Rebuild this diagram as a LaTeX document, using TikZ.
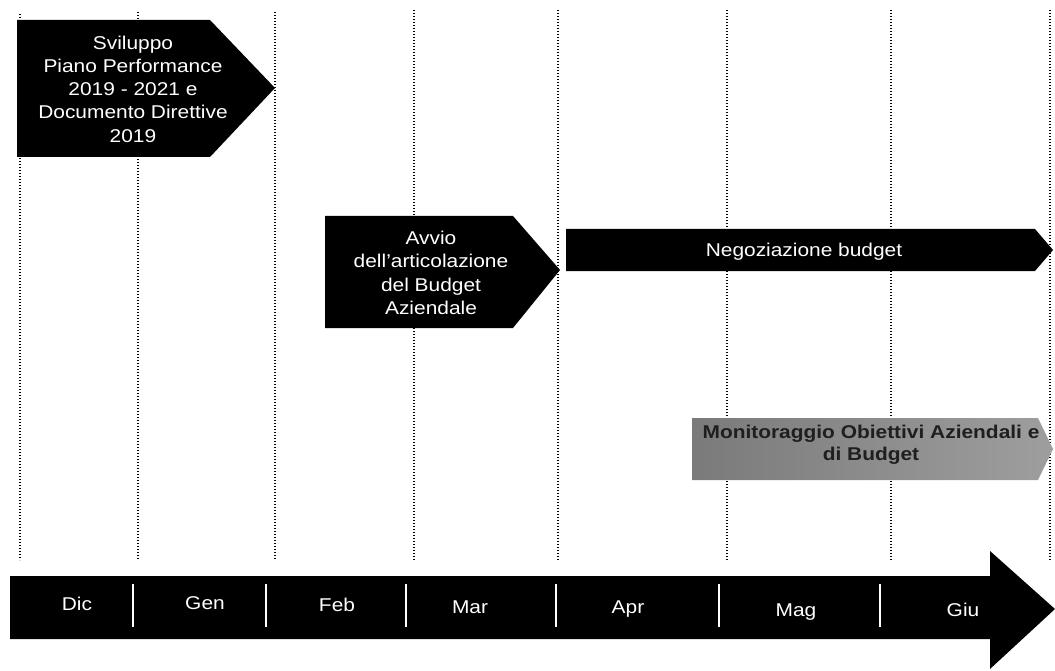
\documentclass[tikz,border=0pt]{standalone}
\usepackage{fontspec}
\setmainfont{Liberation Sans}[FakeStretch=1.13]
\begin{document}
\begin{tikzpicture}[x=1pt,y=-1pt,
  grid/.style={line width=1.7pt,dash pattern=on 1.3pt off 1.7pt,black},
  blk/.style={fill=black},
  lbl/.style={text=white,align=center,inner sep=0pt,font=\fontsize{18.5}{23.3}\selectfont},
  mon/.style={text=black!88,align=center,inner sep=0pt,font=\fontsize{18.5}{22}\selectfont\bfseries},
  month/.style={text=white,inner sep=0pt,font=\fontsize{18.5}{22}\selectfont},
  sep/.style={white,line width=2.2pt}]
\useasboundingbox (0,0) rectangle (1055,671);
% dotted grid lines
\foreach \x/\t in {20/14,138/12,275/12,414/10,558/10,727/10,891/10,1050/10}
  \draw[grid] (\x,\t) -- (\x,560);
% arrows
\fill[blk] (17,20) -- (210,20) -- (275,88) -- (210,157) -- (17,157) -- cycle;
\node[lbl] (svil) at (133,89) {Sviluppo\\Piano Performance\\2019 - 2021 e\\Documento Direttive\\2019};
\fill[blk] (325,216) -- (513,216) -- (560,270) -- (513,328) -- (325,328) -- cycle;
\node[lbl] (avvio) at (431,273) {Avvio\\dell’articolazione\\del Budget\\Aziendale};
\fill[blk] (566,229) -- (1035,229) -- (1053,250) -- (1035,271) -- (566,271) -- cycle;
\node[lbl] (nego) at (804,252) {Negoziazione budget};
\shade[left color=black!52,right color=black!38] (692,418) -- (1038,418) -- (1053,449) -- (1038,480) -- (692,480) -- cycle;
\node[mon] (moni) at (871,445) {Monitoraggio Obiettivi Aziendali e\\di Budget};
% timeline
\fill[blk] (10,576) -- (990,576) -- (990,551) -- (1055,609) -- (990,669) -- (990,639) -- (10,639) -- cycle;
\foreach \x in {133,266,406,556,719,880}
  \draw[sep] (\x,584) -- (\x,627);
\node[month] (dic) at (77,604) {Dic};
\node[month] (gen) at (205,603) {Gen};
\node[month] (feb) at (337,605) {Feb};
\node[month] (mar) at (470,607) {Mar};
\node[month] (apr) at (628,609) {Apr};
\node[month] (mag) at (796,612) {Mag};
\node[month] (giu) at (963,610) {Giu};
\end{tikzpicture}
\end{document}
